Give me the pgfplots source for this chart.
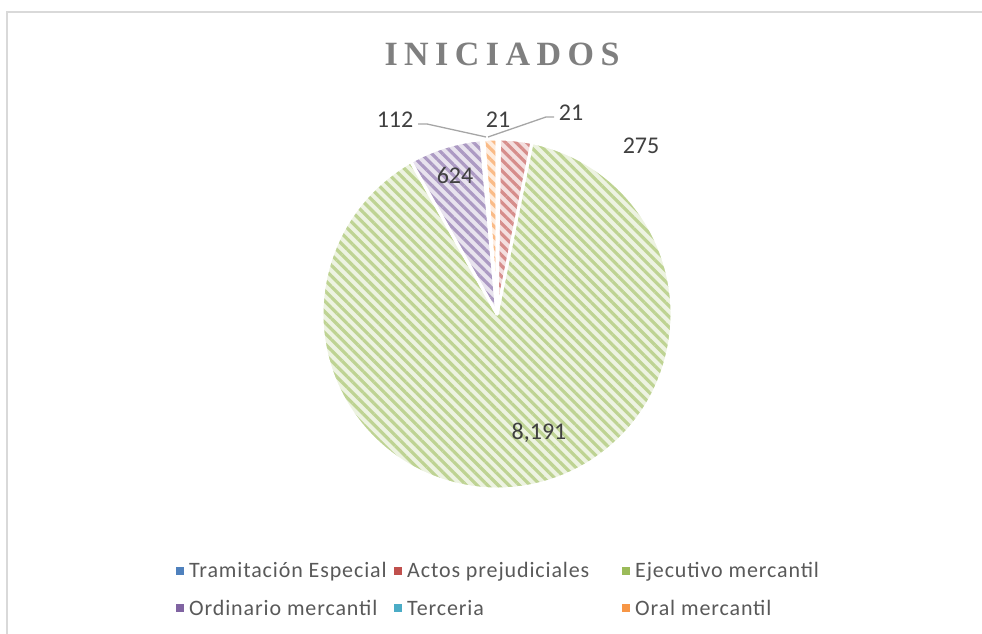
\documentclass[border=0pt]{standalone}
\usepackage{pgfplots}
\pgfplotsset{compat=1.18}
\usepackage{pgfplotstable}
\usepackage{fontspec}
\setmainfont{Carlito}
\newfontfamily\titlefont{Liberation Serif Bold}[LetterSpace=19]
\newfontfamily\legfont[LetterSpace=4]{Carlito}
\usetikzlibrary{patterns.meta}

\definecolor{pie0}{HTML}{4F81BD}
\definecolor{pie1}{HTML}{C0504D}
\definecolor{pie2}{HTML}{9BBB59}
\definecolor{pie3}{HTML}{8064A2}
\definecolor{pie4}{HTML}{4BACC6}
\definecolor{pie5}{HTML}{F79646}
\definecolor{lbl}{HTML}{404040}
\definecolor{legtxt}{HTML}{595959}
\definecolor{leader}{HTML}{A6A6A6}
\definecolor{ttl}{HTML}{7F7F7F}
\definecolor{frame}{HTML}{D9D9D9}

\pgfplotstableread{
idx value
0 21
1 275
2 8191
3 624
4 21
5 112
}\piedata

\begin{document}
\begin{tikzpicture}
\begin{axis}[
  scale only axis, width=982bp, height=634bp,
  xmin=0, xmax=982, ymin=0, ymax=634,
  hide axis,
]
\addplot[draw=none, forget plot] coordinates {(0,0) (982,634)};
\pgfplotsextra{
  % total
  \gdef\pietotal{0}
  \foreach \i in {0,...,5}{
    \pgfplotstablegetelem{\i}{value}\of\piedata
    \pgfmathsetmacro\tmp{\pietotal+\pgfplotsretval}
    \xdef\pietotal{\tmp}
  }
  \gdef\piecum{0}
  \foreach \i in {0,...,5}{
    \pgfplotstablegetelem{\i}{value}\of\piedata
    \pgfmathsetmacro\va{90-(\piecum/\pietotal)*360}
    \pgfmathsetmacro\newcum{\piecum+\pgfplotsretval}
    \pgfmathsetmacro\vb{90-(\newcum/\pietotal)*360}
    \xdef\piecum{\newcum}
    \path[fill=pie\i!18!white,
      postaction={pattern={Lines[angle=-45,distance=7.5bp,line width=3.2bp]}, pattern color=pie\i!65!white}]
      (axis cs:497,320) -- ++(\va:175bp) arc[start angle=\va, end angle=\vb, radius=175bp] -- cycle;
  }
  \gdef\piecum{0}
  \foreach \i in {0,...,5}{
    \pgfplotstablegetelem{\i}{value}\of\piedata
    \pgfmathsetmacro\va{90-(\piecum/\pietotal)*360}
    \pgfmathsetmacro\newcum{\piecum+\pgfplotsretval}
    \pgfmathsetmacro\vb{90-(\newcum/\pietotal)*360}
    \xdef\piecum{\newcum}
    \draw[white, line width=3bp, line join=round]
      (axis cs:497,320) -- ++(\va:175bp) arc[start angle=\va, end angle=\vb, radius=175bp] -- cycle;
  }
  % leader lines
  \draw[leader, line width=1.3bp] (axis cs:418,510) -- (axis cs:427,510) -- (axis cs:486,497);
  \draw[leader, line width=1.3bp] (axis cs:554,517) -- (axis cs:546,517) -- (axis cs:488,497);
  % data labels
  \begingroup
  \fontsize{24bp}{28bp}\selectfont
  \node[lbl] at (axis cs:395,514) {112};
  \node[lbl] at (axis cs:498,514) {21};
  \node[lbl] at (axis cs:571,521) {21};
  \node[lbl] at (axis cs:641,488) {275};
  \node[lbl] at (axis cs:455,459) {624};
  \node[lbl] at (axis cs:539,201) {8,191};
  \endgroup
  % title
  \node[ttl, font=\titlefont\fontsize{34bp}{38bp}\selectfont] at (axis cs:502,580) {INICIADOS};
  % legend
  \begingroup
  \fontsize{22bp}{26bp}\selectfont\legfont
  \fill[pie0] (axis cs:180,63) ++(-4bp,-4bp) rectangle ++(8bp,8bp);
  \node[legtxt, anchor=base west, inner sep=0pt] at (axis cs:189,56) {Tramitación Especial};
  \fill[pie1] (axis cs:398,63) ++(-4bp,-4bp) rectangle ++(8bp,8bp);
  \node[legtxt, anchor=base west, inner sep=0pt] at (axis cs:407,56) {Actos prejudiciales};
  \fill[pie2] (axis cs:626,63) ++(-4bp,-4bp) rectangle ++(8bp,8bp);
  \node[legtxt, anchor=base west, inner sep=0pt] at (axis cs:635,56) {Ejecutivo mercantil};
  \fill[pie3] (axis cs:180,26) ++(-4bp,-4bp) rectangle ++(8bp,8bp);
  \node[legtxt, anchor=base west, inner sep=0pt] at (axis cs:189,19) {Ordinario mercantil};
  \fill[pie4] (axis cs:398,26) ++(-4bp,-4bp) rectangle ++(8bp,8bp);
  \node[legtxt, anchor=base west, inner sep=0pt] at (axis cs:407,19) {Terceria};
  \fill[pie5] (axis cs:626,26) ++(-4bp,-4bp) rectangle ++(8bp,8bp);
  \node[legtxt, anchor=base west, inner sep=0pt] at (axis cs:635,19) {Oral mercantil};
  \endgroup
  % frame
  \draw[frame, line width=1.6bp] (axis cs:7,0) -- (axis cs:7,622) -- (axis cs:982,622);
}
\end{axis}
\end{tikzpicture}
\end{document}
